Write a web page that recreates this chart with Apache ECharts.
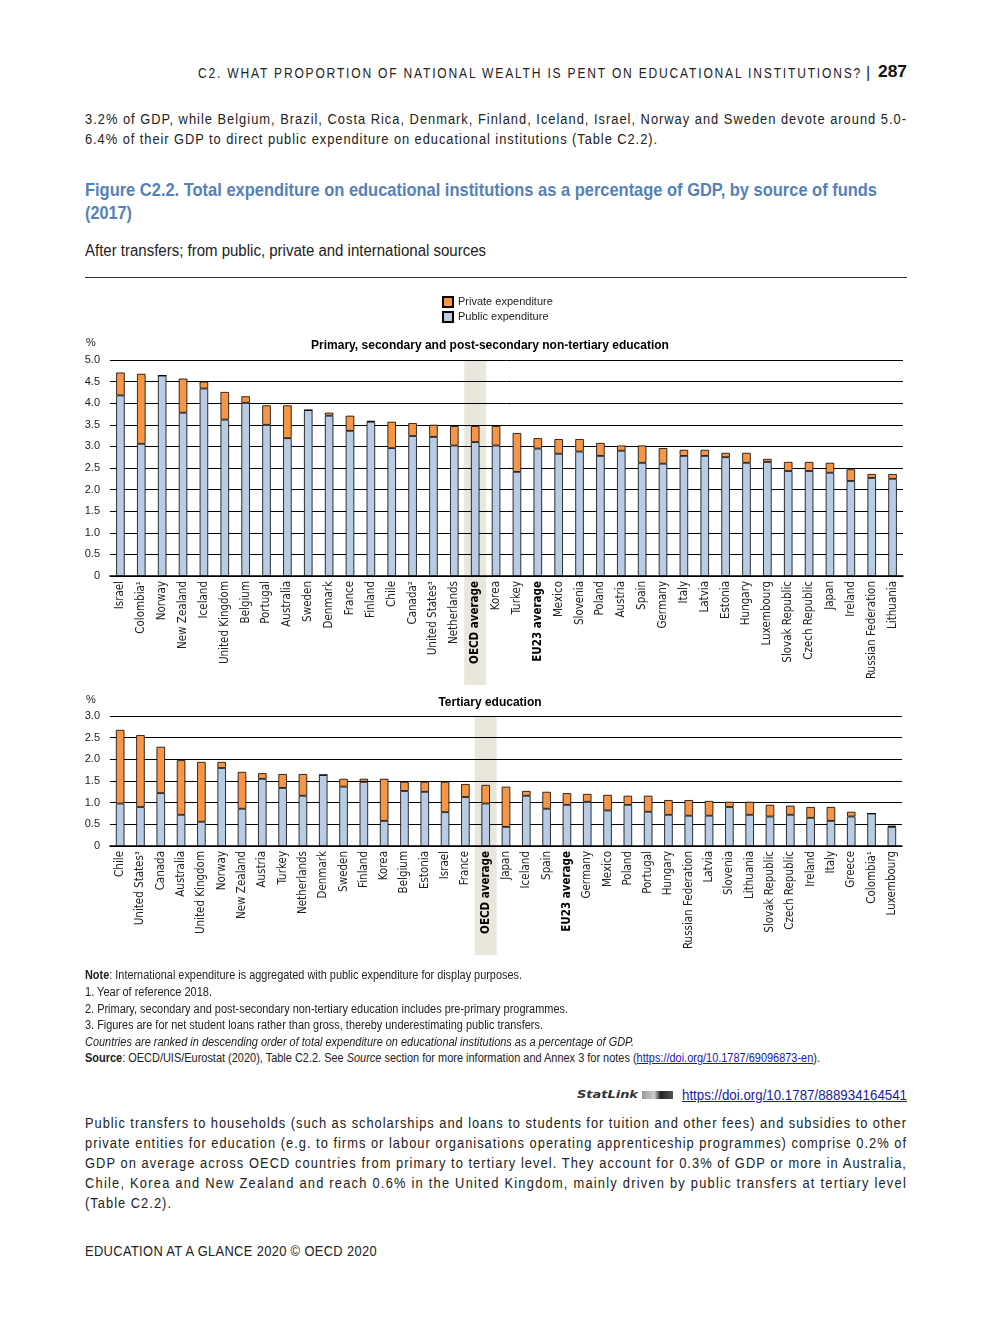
<!DOCTYPE html>
<html><head><meta charset="utf-8">
<script src="https://cdn.jsdelivr.net/npm/echarts@6/dist/echarts.min.js"></script>
<style>
html,body{margin:0;padding:0;background:#fff;}
#page{position:relative;width:992px;height:1323px;overflow:hidden;background:#fff;}
.t{position:absolute;white-space:nowrap;color:#222;font-family:'Liberation Sans',Arial,sans-serif;transform-origin:0 50%;}
#chart{position:absolute;left:0;top:280px;width:992px;height:690px;}
a{color:#1a1aa6;}
</style>
</head><body>
<div id="page">
<div class="t fit" data-sx="0.86" data-x1="198" data-x2="862" style="top:65px;font-size:14px;line-height:17px;">C2. WHAT PROPORTION OF NATIONAL WEALTH IS PENT ON EDUCATIONAL INSTITUTIONS?</div>
<div class="t" style="left:866px;top:63px;font-size:16px;line-height:19px;">|</div>
<div class="t fit" data-x1="878" data-x2="907" style="top:62px;font-size:17px;line-height:20px;font-weight:bold;color:#111;">287</div>

<div class="t fit" data-sx="0.92" data-x1="85" data-x2="907" style="top:111px;font-size:14px;line-height:17px;">3.2% of GDP, while Belgium, Brazil, Costa Rica, Denmark, Finland, Iceland, Israel, Norway and Sweden devote around 5.0-</div>
<div class="t fit" data-sx="0.92" data-x1="85" data-x2="658" style="top:131px;font-size:14px;line-height:17px;">6.4% of their GDP to direct public expenditure on educational institutions (Table C2.2).</div>

<div class="t fit" data-x1="85" data-x2="877" style="top:179px;font-size:18.5px;line-height:22px;font-weight:bold;color:#5581b8;">Figure C2.2. Total expenditure on educational institutions as a percentage of GDP, by source of funds</div>
<div class="t fit" data-x1="85" data-x2="132" style="top:202px;font-size:18.5px;line-height:22px;font-weight:bold;color:#5581b8;">(2017)</div>
<div class="t fit" data-x1="85" data-x2="486" style="top:242px;font-size:16px;line-height:18px;">After transfers; from public, private and international sources</div>
<div style="position:absolute;left:85px;top:277px;width:822px;height:1px;background:#333;"></div>

<div id="chart"></div>

<div class="t fit" data-x1="85" data-x2="522" style="top:968px;font-size:12px;line-height:14px;"><b>Note</b>: International expenditure is aggregated with public expenditure for display purposes.</div>
<div class="t fit" data-x1="85" data-x2="212" style="top:985px;font-size:12px;line-height:14px;">1. Year of reference 2018.</div>
<div class="t fit" data-x1="85" data-x2="568" style="top:1002px;font-size:12px;line-height:14px;">2. Primary, secondary and post-secondary non-tertiary education includes pre-primary programmes.</div>
<div class="t fit" data-x1="85" data-x2="543" style="top:1018px;font-size:12px;line-height:14px;">3. Figures are for net student loans rather than gross, thereby underestimating public transfers.</div>
<div class="t fit" data-x1="85" data-x2="634" style="top:1035px;font-size:12px;line-height:14px;font-style:italic;">Countries are ranked in descending order of total expenditure on educational institutions as a percentage of GDP.</div>
<div class="t fit" data-x1="85" data-x2="820" style="top:1051px;font-size:12px;line-height:14px;"><b>Source</b>: OECD/UIS/Eurostat (2020), Table C2.2. See <i>Source</i> section for more information and Annex 3 for notes (<a style="text-decoration:underline;">https://doi.org/10.1787/69096873-en</a>).</div>

<div class="t fit" data-x1="577" data-x2="638" style="top:1088px;font-size:11px;line-height:14px;font-family:'DejaVu Sans',sans-serif;font-style:italic;font-weight:bold;color:#333;">StatLink</div>
<div style="position:absolute;left:642px;top:1091px;width:31px;height:8px;background:linear-gradient(90deg,#999 0,#ccc 40%,#222 60%,#555 100%);"></div>
<div class="t fit" data-x1="682" data-x2="907" style="top:1087px;font-size:14px;line-height:16px;"><a style="text-decoration:underline;">https://doi.org/10.1787/888934164541</a></div>

<div class="t fit" data-sx="0.92" data-x1="85" data-x2="907" style="top:1115px;font-size:14px;line-height:17px;">Public transfers to households (such as scholarships and loans to students for tuition and other fees) and subsidies to other</div>
<div class="t fit" data-sx="0.92" data-x1="85" data-x2="907" style="top:1135px;font-size:14px;line-height:17px;">private entities for education (e.g. to firms or labour organisations operating apprenticeship programmes) comprise 0.2% of</div>
<div class="t fit" data-sx="0.92" data-x1="85" data-x2="907" style="top:1155px;font-size:14px;line-height:17px;">GDP on average across OECD countries from primary to tertiary level. They account for 0.3% of GDP or more in Australia,</div>
<div class="t fit" data-sx="0.92" data-x1="85" data-x2="907" style="top:1175px;font-size:14px;line-height:17px;">Chile, Korea and New Zealand and reach 0.6% in the United Kingdom, mainly driven by public transfers at tertiary level</div>
<div class="t fit" data-sx="0.92" data-x1="85" data-x2="172" style="top:1195px;font-size:14px;line-height:17px;">(Table C2.2).</div>

<div class="t fit" data-sx="0.92" data-x1="85" data-x2="377" style="top:1243px;font-size:14px;line-height:17px;">EDUCATION AT A GLANCE 2020 © OECD 2020</div>
</div>

<script>
// ---------- DATA ----------
const legendNames = ['Private expenditure', 'Public expenditure'];

const titleTop = 'Primary, secondary and post-secondary non-tertiary education';
const catsTop = ['Israel','Colombia¹','Norway','New Zealand','Iceland','United Kingdom','Belgium','Portugal','Australia','Sweden','Denmark','France','Finland','Chile','Canada²','United States³','Netherlands','OECD average','Korea','Turkey','EU23 average','Mexico','Slovenia','Poland','Austria','Spain','Germany','Italy','Latvia','Estonia','Hungary','Luxembourg','Slovak Republic','Czech Republic','Japan','Ireland','Russian Federation','Lithuania'];
const publicTop = [4.18,3.06,4.64,3.78,4.34,3.62,4.01,3.50,3.19,3.84,3.71,3.36,3.57,2.96,3.24,3.22,3.02,3.10,3.02,2.41,2.95,2.83,2.88,2.78,2.90,2.62,2.60,2.78,2.78,2.75,2.62,2.64,2.43,2.43,2.39,2.20,2.27,2.25];
const privateTop = [0.53,1.62,0,0.79,0.16,0.64,0.15,0.45,0.76,0,0.07,0.35,0.02,0.61,0.30,0.28,0.45,0.37,0.45,0.90,0.24,0.34,0.29,0.30,0.12,0.40,0.36,0.14,0.14,0.10,0.23,0.07,0.21,0.21,0.23,0.27,0.09,0.11];
const yTicksTop = {min: 0, max: 5, step: 0.5};

const titleBot = 'Tertiary education';
const catsBot = ['Chile','United States³','Canada','Australia','United Kingdom','Norway','New Zealand','Austria','Turkey','Netherlands','Denmark','Sweden','Finland','Korea','Belgium','Estonia','Israel','France','OECD average','Japan','Iceland','Spain','EU23 average','Germany','Mexico','Poland','Portugal','Hungary','Russian Federation','Latvia','Slovenia','Lithuania','Slovak Republic','Czech Republic','Ireland','Italy','Greece','Colombia¹','Luxembourg'];
const publicBot = [0.98,0.90,1.22,0.72,0.56,1.80,0.86,1.55,1.34,1.16,1.64,1.37,1.48,0.58,1.27,1.25,0.78,1.13,0.98,0.44,1.16,0.86,0.95,1.02,0.82,0.95,0.79,0.72,0.70,0.70,0.90,0.72,0.68,0.72,0.65,0.58,0.68,0.75,0.44];
const privateBot = [1.70,1.66,1.07,1.26,1.38,0.14,0.85,0.13,0.32,0.50,0,0.18,0.07,0.97,0.21,0.23,0.70,0.30,0.43,0.93,0.11,0.39,0.27,0.18,0.36,0.21,0.37,0.34,0.36,0.34,0.12,0.30,0.27,0.21,0.25,0.32,0.11,0,0.03];
const yTicksBot = {min: 0, max: 3, step: 0.5};

const highlightCat = 'OECD average';

// ---------- TEXT FITTING (layout only) ----------
document.querySelectorAll('.fit').forEach(el => {
  const x1 = +el.dataset.x1, x2 = +el.dataset.x2;
  el.style.left = x1 + 'px';
  el.style.letterSpacing = '0px';
  const w = el.getBoundingClientRect().width;
  const n = el.textContent.length;
  const target = x2 - x1;
  if (el.dataset.sx) {
    const sx = +el.dataset.sx;
    el.style.transform = 'scaleX(' + sx + ')';
    el.style.letterSpacing = ((target / sx - w) / n) + 'px';
  } else {
    el.style.transform = 'scaleX(' + (target / w) + ')';
  }
});

// ---------- CHART ----------
const FONT = "'Liberation Sans', Arial, sans-serif";
const NARROW = "'Liberation Sans Narrow', 'DejaVu Sans Condensed', Arial, sans-serif";
const PUB = '#b8cce4', PRIV = '#f79646';

function catLabel(v) { return v.indexOf('average') >= 0 ? '{b|' + v + '}' : v; }
function xAxisDef(data, gi) {
  return {
    type: 'category', gridIndex: gi, data: data,
    axisLine: {lineStyle: {color: '#000', width: 1.5}},
    axisTick: {show: false},
    axisLabel: {
      rotate: 90, interval: 0, margin: 5, fontFamily: NARROW, fontSize: 11.5, color: '#222',
      formatter: catLabel,
      rich: {b: {fontWeight: 'bold', fontFamily: NARROW, fontSize: 11.5, color: '#000'}}
    }
  };
}
function yAxisDef(t, gi) {
  return {
    type: 'value', gridIndex: gi, min: t.min, max: t.max, interval: t.step,
    axisLine: {show: false}, axisTick: {show: false},
    splitLine: {lineStyle: {color: '#000', width: 1}},
    axisLabel: {
      formatter: v => v === 0 ? '0' : v.toFixed(1),
      fontFamily: FONT, fontSize: 11, color: '#222', margin: 10
    }
  };
}
function barSeries(name, data, gi, stack, color) {
  return {
    name: name, type: 'bar', stack: stack, xAxisIndex: gi, yAxisIndex: gi,
    data: data, barWidth: 8.5, z: 3,
    itemStyle: {color: color, borderColor: '#000', borderWidth: 0.8}
  };
}

const chart = echarts.init(document.getElementById('chart'));
chart.setOption({
  animation: false,
  grid: [
    {left: 110, top: 80, width: 793, height: 216},
    {left: 110, top: 436, width: 792, height: 130}
  ],
  legend: {
    data: legendNames, orient: 'vertical', left: 442, top: 15, padding: 0,
    itemWidth: 10, itemHeight: 10, itemGap: 1, icon: 'rect', selectedMode: false,
    textStyle: {fontFamily: FONT, fontSize: 11, color: '#222', lineHeight: 14}
  },
  title: [
    {text: titleTop, left: 490, top: 60, textAlign: 'center', padding: 0,
     textStyle: {fontFamily: FONT, fontWeight: 'bold', fontSize: 12, color: '#000'}},
    {text: titleBot, left: 490, top: 417, textAlign: 'center', padding: 0,
     textStyle: {fontFamily: FONT, fontWeight: 'bold', fontSize: 12, color: '#000'}}
  ],
  xAxis: [xAxisDef(catsTop, 0), xAxisDef(catsBot, 1)],
  yAxis: [yAxisDef(yTicksTop, 0), yAxisDef(yTicksBot, 1)],
  series: [
    barSeries(legendNames[1], publicTop, 0, 'top', PUB),
    barSeries(legendNames[0], privateTop, 0, 'top', PRIV),
    barSeries(legendNames[1], publicBot, 1, 'bot', PUB),
    barSeries(legendNames[0], privateBot, 1, 'bot', PRIV)
  ]
});

const cxTop = chart.convertToPixel({xAxisIndex: 0}, catsTop.indexOf(highlightCat));
const cxBot = chart.convertToPixel({xAxisIndex: 1}, catsBot.indexOf(highlightCat));
const yTop5 = chart.convertToPixel({yAxisIndex: 0}, yTicksTop.max);
const yBot3 = chart.convertToPixel({yAxisIndex: 1}, yTicksBot.max);
chart.setOption({
  graphic: [
    {type: 'rect', z: -1, shape: {x: cxTop - 11, y: yTop5, width: 22, height: 405 - yTop5}, style: {fill: '#e9e6dc'}},
    {type: 'rect', z: -1, shape: {x: cxBot - 11, y: yBot3, width: 22, height: 675 - yBot3}, style: {fill: '#e9e6dc'}},
    {type: 'text', left: 86, top: 57, style: {text: '%', font: '11px ' + FONT, fill: '#222'}},
    {type: 'text', left: 86, top: 414, style: {text: '%', font: '11px ' + FONT, fill: '#222'}}
  ]
});
</script>
</body></html>
